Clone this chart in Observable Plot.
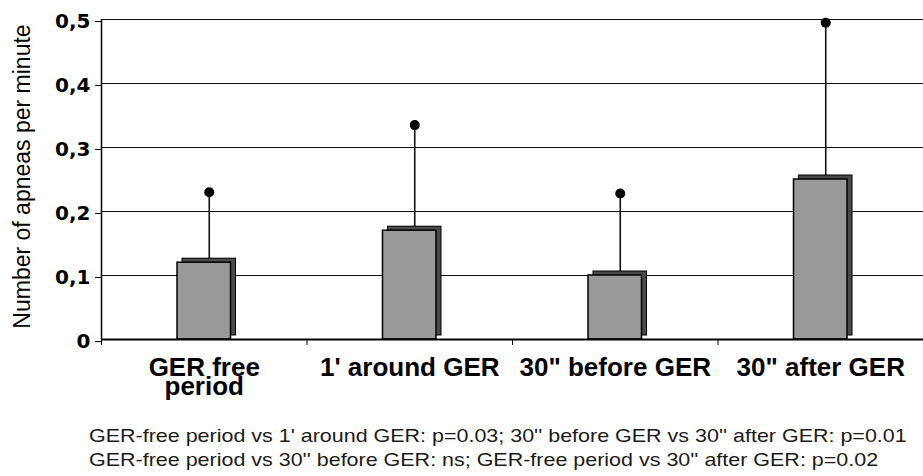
<!DOCTYPE html>
<html>
<head>
<meta charset="utf-8">
<script src="https://cdn.jsdelivr.net/npm/d3@7"></script>
<script src="https://cdn.jsdelivr.net/npm/@observablehq/plot@0.6"></script>
<style>
  html, body { margin: 0; padding: 0; background: #fff; }
  #chart svg { display: block; }
  #notes {
    font-family: "Liberation Sans", Arial, sans-serif;
    font-size: 19px;
    line-height: 24px;
    color: #1a1a1a;
    padding-left: 89px;
    margin-top: 24px;
    white-space: nowrap;
  }
  #notes div { transform: scaleX(1.13); transform-origin: left center; }
</style>
</head>
<body>
<div id="chart"></div>
<div id="notes"></div>
<script>
// Apnea frequency per period relative to gastro-oesophageal reflux (GER)
const categories = ["GER free\nperiod", "1' around GER", "30\" before GER", "30\" after GER"];
const meanValues = [0.12, 0.17, 0.10, 0.25];     // bar heights (mean)
const upperValues = [0.23, 0.335, 0.228, 0.495]; // top of the error whisker
const yTicks = [0, 0.1, 0.2, 0.3, 0.4, 0.5];
const yLabel = "Number of apneas per minute";
const notes = [
  "GER-free period vs 1' around GER: p=0.03; 30'' before GER vs 30'' after GER: p=0.01",
  "GER-free period vs 30'' before GER: ns; GER-free period vs 30'' after GER: p=0.02"
];

// one row per category; x runs over category slots [i, i+1]
const rows = categories.map((c, i) => ({cat: c, slot: i, mean: meanValues[i], upper: upperValues[i]}));
const boundaries = d3.range(categories.length + 1);

const barInset = 76;
const depthX = 5, depthY = -4;
const fmt = d => d === 0 ? "0" : d3.format(".1f")(d).replace(".", ",");

const chart = Plot.plot({
  width: 923,
  height: 400,
  marginLeft: 101,
  marginRight: 0,
  marginTop: 19,
  marginBottom: 61,
  x: {type: "linear", domain: [0, categories.length], axis: null},
  y: {domain: [0, 0.5], axis: null},
  marks: [
    // horizontal gridlines
    Plot.ruleY(yTicks.slice(1), {stroke: "#111", strokeWidth: 1}),
    // value axis line and ticks
    Plot.ruleX([0], {y1: 0, y2: 0.5, stroke: "#000", strokeWidth: 1.5}),
    Plot.axisY({
      ticks: yTicks, tickFormat: fmt, tickSize: 6, tickPadding: 5,
      fontFamily: "DejaVu Sans", fontWeight: "bold", fontSize: 20, label: null,
      stroke: "#000", dy: 2
    }),
    // category separators below the baseline
    Plot.ruleX(boundaries, {y1: 0, y2: 0, insetBottom: -6, stroke: "#000", strokeWidth: 1}),
    // error whiskers and their end dots
    Plot.ruleX(rows, {x: d => d.slot + 0.5, y1: "mean", y2: "upper", dx: depthX, stroke: "#111", strokeWidth: 1.6}),
    Plot.dot(rows, {x: d => d.slot + 0.5, y: "upper", dx: depthX, r: 5, fill: "#000", stroke: "none"}),
    // bar depth (top + right side faces)
    Plot.rectY(rows, {
      x1: "slot", x2: d => d.slot + 1, y: "mean",
      insetLeft: barInset, insetRight: barInset, dx: depthX, dy: depthY,
      fill: "#4a4a4a", stroke: "#000", strokeWidth: 1
    }),
    // bar front face
    Plot.rectY(rows, {
      x1: "slot", x2: d => d.slot + 1, y: "mean",
      insetLeft: barInset, insetRight: barInset,
      fill: "#999999", stroke: "#000", strokeWidth: 1.5
    }),
    // baseline
    Plot.ruleY([0], {stroke: "#000", strokeWidth: 2}),
    // category labels
    Plot.text(rows, {
      x: d => d.slot + 0.5, y: 0, text: "cat", lineAnchor: "top", dy: 23,
      lineHeight: 0.74, fontFamily: "Liberation Sans", fontWeight: "bold", fontSize: 26, fill: "#000"
    }),
    // value axis title
    Plot.text([yLabel], {
      frameAnchor: "left", textAnchor: "middle", rotate: -90, dx: -79, dy: -3,
      fontFamily: "Liberation Sans", fontSize: 23, fill: "#000"
    })
  ]
});
document.getElementById("chart").append(chart);

const notesBox = document.getElementById("notes");
for (const line of notes) {
  const div = document.createElement("div");
  div.textContent = line;
  notesBox.append(div);
}
</script>
</body>
</html>
